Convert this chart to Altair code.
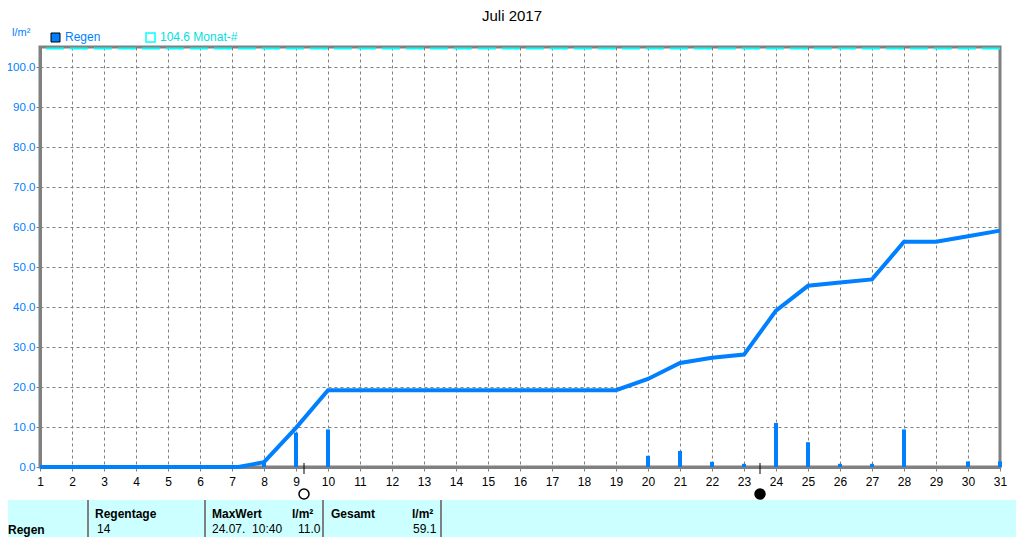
import altair as alt
import pandas as pd

# ---------------- data ----------------
days = list(range(1, 32))
rain_daily = [0, 0, 0, 0, 0, 0, 0, 1.2, 8.6, 9.4, 0, 0, 0, 0, 0, 0, 0, 0, 0,
              2.8, 4.0, 1.3, 0.8, 11.0, 6.2, 0.8, 0.8, 9.4, 0, 1.4, 1.4]
cum_days = [1, 7.2, 8, 9, 10, 19, 20, 21, 22, 23, 24, 25, 26, 27, 28, 29, 30, 31]
cum_rain = [0, 0, 1.2, 9.8, 19.2, 19.2, 22.0, 26.0, 27.3, 28.1, 39.1, 45.3,
            46.1, 46.9, 56.3, 56.3, 57.7, 59.1]
month_avg = 104.6
moon_days = [9.25, 23.5]
moon_phase = ["voll", "neu"]
y_ticks = [0, 10, 20, 30, 40, 50, 60, 70, 80, 90, 100]

title_text = "Juli 2017"
unit_text = "l/m²"
legend_rain = "Regen"
legend_avg = "104.6 Monat-#"
row_label = "Regen"
hdr_days = "Regentage"
val_days = "14"
hdr_max = "MaxWert"
val_max_time = "24.07.\u00a0 10:40"
hdr_unit = "l/m²"
val_max = "11.0"
hdr_total = "Gesamt"
val_total = "59.1"

BLUE = "#0080FF"
CYAN = "#00FFFF"
GRAY = "#808080"
FONT = "Liberation Sans"

bars_df = pd.DataFrame({"day": days, "rain": rain_daily})
cum_df = pd.DataFrame({"day": cum_days, "cum": cum_rain})
moon_df = pd.DataFrame({"day": moon_days, "phase": moon_phase})
avg_df = pd.DataFrame({"avg": [month_avg]})
one = pd.DataFrame({"k": [0]})

xscale = alt.Scale(domain=[1, 31], nice=False, zero=False, padding=0)
yscale = alt.Scale(domain=[0, 105], nice=False)

xaxis = alt.Axis(values=days, title=None, grid=True, labelColor="black",
                 labelFontSize=12, tickSize=4, labelPadding=5, labelFlush=False,
                 labelOverlap=False)
yaxis = alt.Axis(values=y_ticks, title=None, grid=True, format=".1f",
                 labelColor=BLUE, labelFontSize=11.5, tickSize=4, labelPadding=1)

X = alt.X("day:Q", scale=xscale, axis=xaxis)

bars = alt.Chart(bars_df).mark_bar(color=BLUE, size=4).encode(
    x=X,
    y=alt.Y("rain:Q", scale=yscale, axis=yaxis),
)

line = alt.Chart(cum_df).mark_line(color=BLUE, strokeWidth=4).encode(
    x=X,
    y=alt.Y("cum:Q", scale=yscale, axis=yaxis),
)

avg_line = alt.Chart(avg_df).mark_rule(color=CYAN, strokeWidth=2, strokeDash=[18, 6]).encode(
    y=alt.Y("avg:Q", scale=yscale, axis=yaxis),
)

moon_tick = alt.Chart(moon_df).mark_rule(color="black", strokeWidth=1).encode(
    x=X,
    y=alt.value(416), y2=alt.value(427),
)

moon_pt = alt.Chart(moon_df).mark_point(shape="circle", size=100, stroke="black",
                                        strokeWidth=1.5, filled=False, opacity=1,
                                        fillOpacity=1).encode(
    x=X,
    y=alt.value(447),
    fill=alt.Fill("phase:N", scale=alt.Scale(domain=["voll", "neu"], range=["white", "black"]),
                  legend=None),
)


def text(t, x, y, color="black", size=12, bold=False, align="left"):
    return alt.Chart(one).mark_text(
        text=t, align=align, baseline="middle", fontSize=size, font=FONT,
        fontWeight="bold" if bold else "normal", color=color,
    ).encode(x=alt.value(x), y=alt.value(y))


def rect(x, x2, y, y2, fill, stroke=None, sw=1):
    kw = dict(fill=fill)
    if stroke:
        kw.update(stroke=stroke, strokeWidth=sw)
    return alt.Chart(one).mark_rect(**kw).encode(
        x=alt.value(x), x2=alt.value(x2), y=alt.value(y), y2=alt.value(y2))


def vline(x, y, y2, color=GRAY, w=2):
    return alt.Chart(one).mark_rule(color=color, strokeWidth=w).encode(
        x=alt.value(x), y=alt.value(y), y2=alt.value(y2))


TB = 490  # table bottom (plot coords)
deco = [
    text(title_text, 472, -31, size=15, align="center"),
    text(unit_text, -28, -14, color=BLUE, size=11),
    rect(11, 20, -14, -5, BLUE, "black", 1),
    text(legend_rain, 25, -10, color=BLUE, size=12),
    rect(106, 115, -14, -5, "white", CYAN, 1.5),
    text(legend_avg, 120, -10, color="#00E0E0", size=12),
    # table
    rect(-32, 976, 453, TB, "#CCFFFF"),
    vline(48, 453, TB),
    vline(165, 453, TB),
    vline(283, 453, TB),
    vline(401, 453, TB),
    text(row_label, -32, 483, bold=True),
    text(hdr_days, 55, 467, bold=True),
    text(val_days, 57, 482),
    text(hdr_max, 172, 467, bold=True),
    text(hdr_unit, 252, 467, bold=True),
    text(val_max_time, 172, 482),
    text(val_max, 258, 482),
    text(hdr_total, 291, 467, bold=True),
    text(hdr_unit, 372, 467, bold=True),
    text(val_total, 373, 482),
]

chart = alt.layer(avg_line, bars, line, moon_tick, moon_pt, *deco).properties(
    width=960, height=420,
    autosize=alt.AutoSizeParams(type="none"),
    padding={"left": 32, "top": 39, "right": 16, "bottom": 70},
).configure_view(
    stroke=GRAY, strokeWidth=3,
).configure_axis(
    domainColor=GRAY, domainWidth=3, tickColor=GRAY,
    gridColor=GRAY, gridDash=[3, 3], gridOpacity=1, gridWidth=1,
    labelFont=FONT,
).configure_axisX(
    labelOverlap=False,
)

chart.save("out.html", embed_options={"renderer": "svg", "actions": False})
